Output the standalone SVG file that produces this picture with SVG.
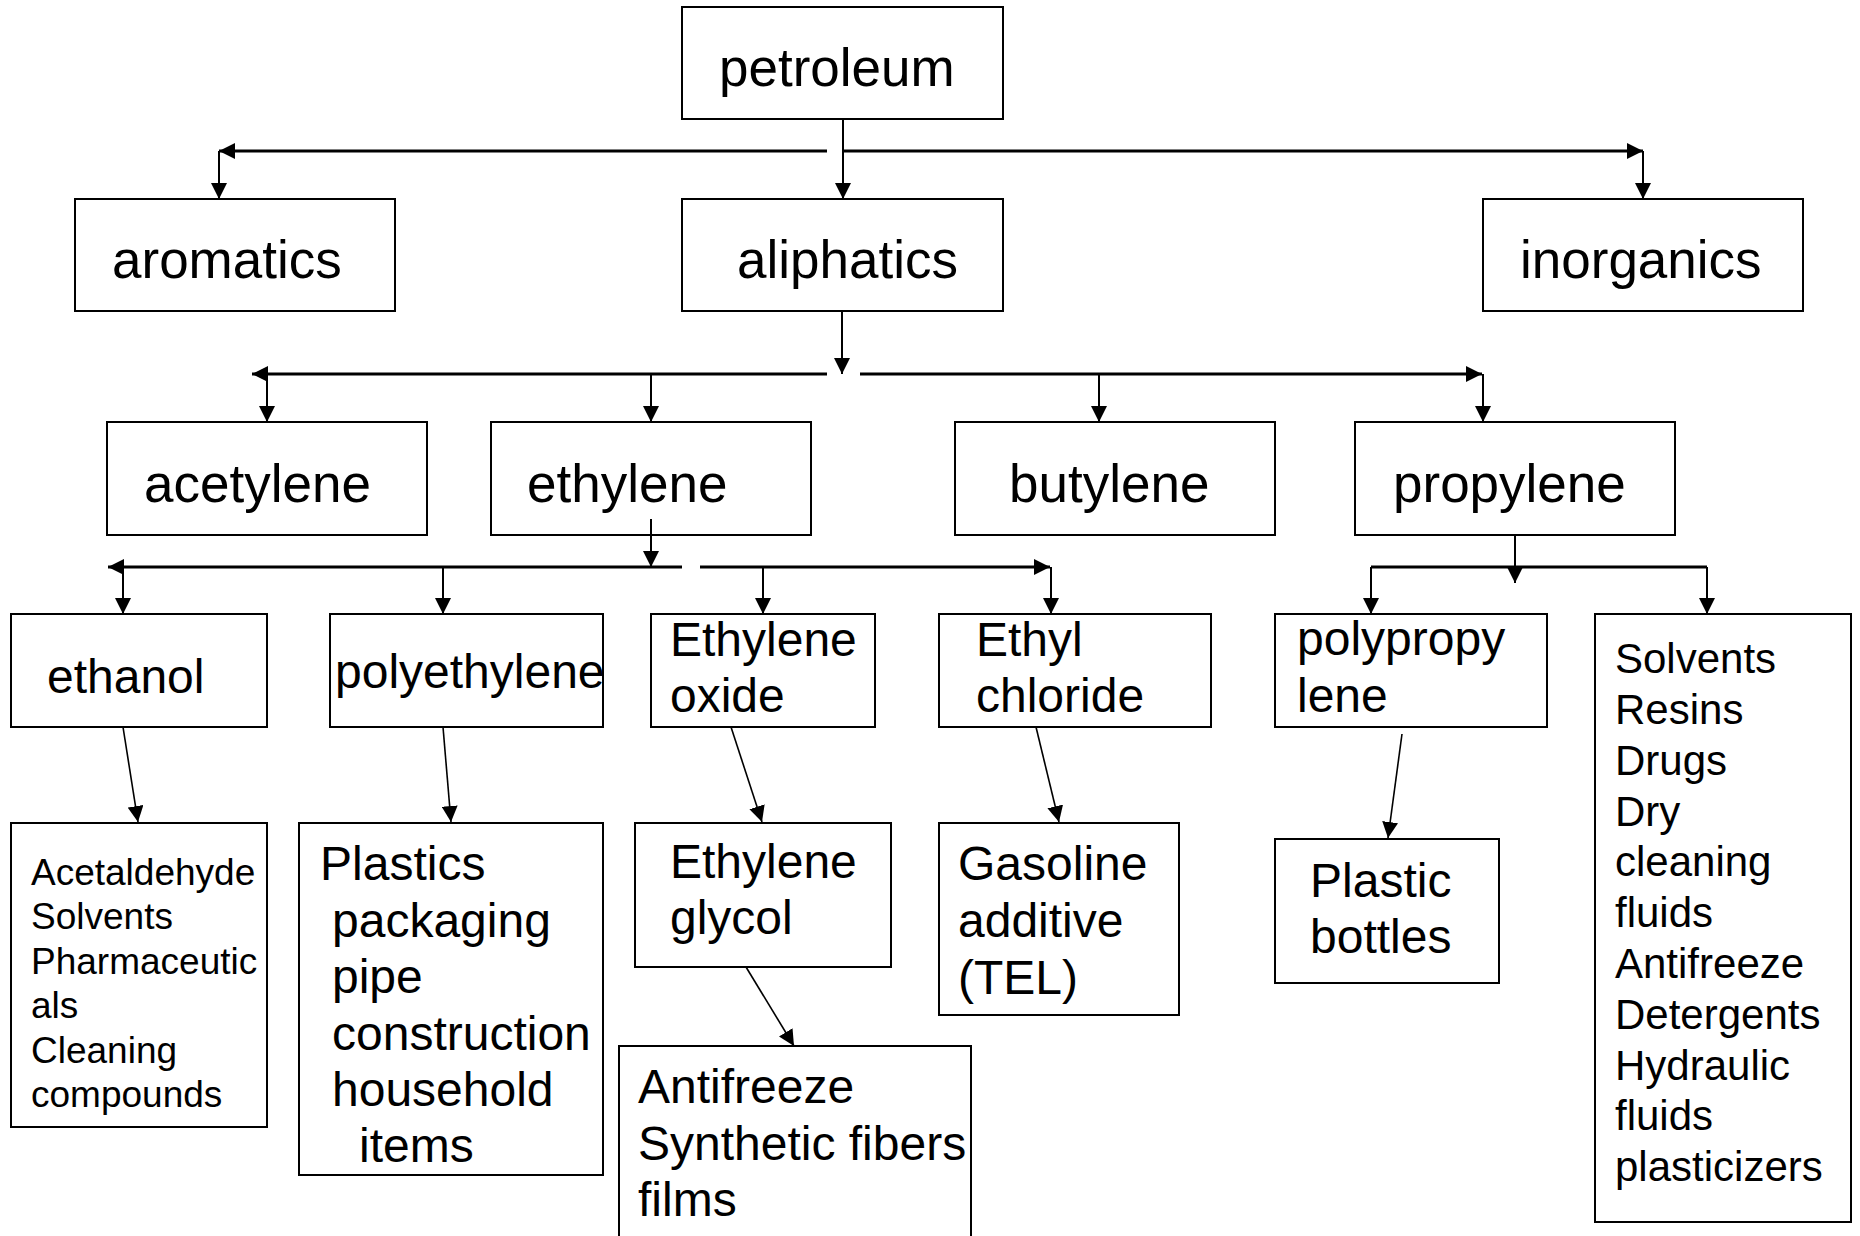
<svg xmlns="http://www.w3.org/2000/svg" width="1860" height="1236" viewBox="0 0 1860 1236">
<style>
rect{fill:#fff;stroke:#000;stroke-width:2}
text{font-family:"Liberation Sans",Arial,Helvetica,sans-serif;fill:#000}
.f53{font-size:53px}.f48{font-size:48px}.f42{font-size:42px}.f37{font-size:37px}
.h{stroke:#000;stroke-width:3;fill:none}
.v{stroke:#000;stroke-width:2;fill:none}
.d{stroke:#000;stroke-width:1.6;fill:none}
</style>
<defs>
<marker id="ah" markerWidth="16" markerHeight="16" refX="16" refY="8" orient="auto" markerUnits="userSpaceOnUse"><path d="M0,0 L16,8 L0,16 z" fill="#000"/></marker>
</defs>
<rect x="0" y="0" width="1860" height="1236" style="stroke:none"/>
<g id="connectors">
<line class="v" x1="843" y1="119" x2="843" y2="199" marker-end="url(#ah)"/>
<line class="h" x1="827" y1="151" x2="219" y2="151" marker-end="url(#ah)"/>
<line class="h" x1="843" y1="151" x2="1643" y2="151" marker-end="url(#ah)"/>
<line class="v" x1="219" y1="151" x2="219" y2="199" marker-end="url(#ah)"/>
<line class="v" x1="1643" y1="151" x2="1643" y2="199" marker-end="url(#ah)"/>
<line class="v" x1="842" y1="311" x2="842" y2="374" marker-end="url(#ah)"/>
<line class="h" x1="827" y1="374" x2="252" y2="374" marker-end="url(#ah)"/>
<line class="h" x1="860" y1="374" x2="1482" y2="374" marker-end="url(#ah)"/>
<line class="v" x1="267" y1="374" x2="267" y2="422" marker-end="url(#ah)"/>
<line class="v" x1="651" y1="374" x2="651" y2="422" marker-end="url(#ah)"/>
<line class="v" x1="1099" y1="374" x2="1099" y2="422" marker-end="url(#ah)"/>
<line class="v" x1="1483" y1="374" x2="1483" y2="422" marker-end="url(#ah)"/>
<line class="h" x1="682" y1="567" x2="108" y2="567" marker-end="url(#ah)"/>
<line class="h" x1="700" y1="567" x2="1050" y2="567" marker-end="url(#ah)"/>
<line class="v" x1="123" y1="567" x2="123" y2="614" marker-end="url(#ah)"/>
<line class="v" x1="443" y1="567" x2="443" y2="614" marker-end="url(#ah)"/>
<line class="v" x1="763" y1="567" x2="763" y2="614" marker-end="url(#ah)"/>
<line class="v" x1="1051" y1="567" x2="1051" y2="614" marker-end="url(#ah)"/>
<line class="h" x1="1371" y1="567" x2="1707" y2="567"/>
<line class="v" x1="1371" y1="567" x2="1371" y2="614" marker-end="url(#ah)"/>
<line class="v" x1="1707" y1="567" x2="1707" y2="614" marker-end="url(#ah)"/>
<line class="d" x1="123" y1="727" x2="138" y2="822" marker-end="url(#ah)"/>
<line class="d" x1="443" y1="727" x2="451" y2="822" marker-end="url(#ah)"/>
<line class="d" x1="731" y1="727" x2="762" y2="822" marker-end="url(#ah)"/>
<line class="d" x1="746" y1="967" x2="794" y2="1046" marker-end="url(#ah)"/>
<line class="d" x1="1036" y1="727" x2="1059" y2="822" marker-end="url(#ah)"/>
<line class="d" x1="1402" y1="734" x2="1388" y2="838" marker-end="url(#ah)"/>
</g>
<g id="petroleum"><rect x="682" y="7" width="321" height="112"/><text class="f53" x="719" y="86">petroleum</text></g>
<g id="aromatics"><rect x="75" y="199" width="320" height="112"/><text class="f53" x="112" y="278">aromatics</text></g>
<g id="aliphatics"><rect x="682" y="199" width="321" height="112"/><text class="f53" x="737" y="278">aliphatics</text></g>
<g id="inorganics"><rect x="1483" y="199" width="320" height="112"/><text class="f53" x="1520" y="278">inorganics</text></g>
<g id="acetylene"><rect x="107" y="422" width="320" height="113"/><text class="f53" x="144" y="502">acetylene</text></g>
<g id="ethylene"><rect x="491" y="422" width="320" height="113"/><text class="f53" x="527" y="502">ethylene</text></g>
<line class="v" x1="651" y1="519" x2="651" y2="567" marker-end="url(#ah)"/>
<g id="butylene"><rect x="955" y="422" width="320" height="113"/><text class="f53" x="1009" y="502">butylene</text></g>
<g id="propylene"><rect x="1355" y="422" width="320" height="113"/><text class="f53" x="1393" y="502">propylene</text></g>
<line class="v" x1="1515" y1="535" x2="1515" y2="583" marker-end="url(#ah)"/>
<g id="ethanol"><rect x="11" y="614" width="256" height="113"/><text class="f48" x="47" y="693">ethanol</text></g>
<g id="polyethylene"><rect x="330" y="614" width="273" height="113"/><text class="f48" x="335" y="688">polyethylene</text></g>
<g id="ethylene-oxide"><rect x="651" y="614" width="224" height="113"/><text class="f48" x="670" y="656">Ethylene</text><text class="f48" x="670" y="712">oxide</text></g>
<g id="ethyl-chloride"><rect x="939" y="614" width="272" height="113"/><text class="f48" x="976" y="656">Ethyl</text><text class="f48" x="976" y="712">chloride</text></g>
<g id="polypropylene"><rect x="1275" y="614" width="272" height="113"/><text class="f48" x="1297" y="655">polypropy</text><text class="f48" x="1297" y="712">lene</text></g>
<g id="propylene-uses"><rect x="1595" y="614" width="256" height="608"/>
<text class="f42" x="1615"><tspan x="1615" y="673">Solvents</tspan><tspan x="1615" y="724">Resins</tspan><tspan x="1615" y="775">Drugs</tspan><tspan x="1615" y="826">Dry</tspan><tspan x="1615" y="876">cleaning</tspan><tspan x="1615" y="927">fluids</tspan><tspan x="1615" y="978">Antifreeze</tspan><tspan x="1615" y="1029">Detergents</tspan><tspan x="1615" y="1080">Hydraulic</tspan><tspan x="1615" y="1130">fluids</tspan><tspan x="1615" y="1181">plasticizers</tspan></text></g>
<g id="ethanol-uses"><rect x="11" y="823" width="256" height="304"/>
<text class="f37"><tspan x="31" y="885">Acetaldehyde</tspan><tspan x="31" y="929">Solvents</tspan><tspan x="31" y="974">Pharmaceutic</tspan><tspan x="31" y="1018">als</tspan><tspan x="31" y="1063">Cleaning</tspan><tspan x="31" y="1107">compounds</tspan></text></g>
<g id="polyethylene-uses"><rect x="299" y="823" width="304" height="352"/>
<text class="f48"><tspan x="320" y="880">Plastics</tspan><tspan x="332" y="937">packaging</tspan><tspan x="332" y="993">pipe</tspan><tspan x="332" y="1050">construction</tspan><tspan x="332" y="1106">household</tspan><tspan x="359" y="1162">items</tspan></text></g>
<g id="ethylene-glycol"><rect x="635" y="823" width="256" height="144"/><text class="f48" x="670" y="878">Ethylene</text><text class="f48" x="670" y="934">glycol</text></g>
<g id="glycol-uses"><rect x="619" y="1046" width="352" height="200"/>
<text class="f48"><tspan x="638" y="1103">Antifreeze</tspan><tspan x="638" y="1160">Synthetic fibers</tspan><tspan x="638" y="1216">films</tspan></text></g>
<g id="gasoline-additive"><rect x="939" y="823" width="240" height="192"/>
<text class="f48"><tspan x="958" y="880">Gasoline</tspan><tspan x="958" y="937">additive</tspan><tspan x="958" y="994">(TEL)</tspan></text></g>
<g id="plastic-bottles"><rect x="1275" y="839" width="224" height="144"/><text class="f48" x="1310" y="897">Plastic</text><text class="f48" x="1310" y="953">bottles</text></g>
</svg>
